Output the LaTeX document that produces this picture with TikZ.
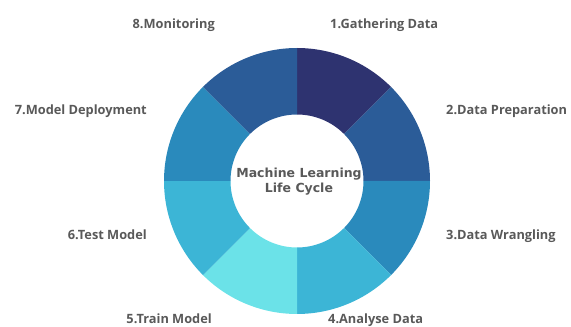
\documentclass[tikz,border=0pt]{standalone}
\usepackage{fontspec}
\setmainfont{Open Sans}
\newfontfamily\titlefont{DejaVu Sans}
\usepackage{xcolor}
\definecolor{cSegA}{HTML}{2E3370}
\definecolor{cSegB}{HTML}{2B5C98}
\definecolor{cSegC}{HTML}{2A8ABC}
\definecolor{cSegD}{HTML}{3CB5D6}
\definecolor{cSegE}{HTML}{6BE2E8}
\definecolor{cText}{HTML}{595959}
\usetikzlibrary{positioning}
\tikzset{
  lbl/.style={font=\bfseries\fontsize{12.8}{15}\selectfont,text=cText,inner sep=0pt},
  lbl-left/.style={lbl,anchor=base east},
  lbl-right/.style={lbl,anchor=base west},
  lbl-center/.style={lbl,align=center,font=\titlefont\bfseries\fontsize{12.5}{15}\selectfont},
}
\begin{document}
\begin{tikzpicture}[x=1pt,y=1pt]
  \useasboundingbox (0,0) rectangle (571,327);
  \coordinate (c) at (297,146);
  % ring segments, clockwise from the top
  \begin{scope}[shift={(c)}]
    \foreach \i/\col in {1/cSegA,2/cSegB,3/cSegC,4/cSegD,5/cSegE,6/cSegD,7/cSegC,8/cSegB} {
      \pgfmathsetmacro{\sa}{90-45*(\i-1)}
      \pgfmathsetmacro{\ea}{90-45*\i}
      \fill[\col] (\sa:133) arc[start angle=\sa,end angle=\ea,radius=133]
        -- (\ea:66.5) arc[start angle=\ea,end angle=\sa,radius=66.5] -- cycle;
    }
  \end{scope}
  \node[lbl-center] (title) at (299,145) {Machine Learning\\Life Cycle};
  % step labels
  \node[lbl-right] (gather) at (330,298) {1.Gathering Data};
  \node[lbl-right] (prep) at (446,212) {2.Data Preparation};
  \node[lbl-right] (wrangle) at (446,87) {3.Data Wrangling};
  \node[lbl-right] (analyse) at (328,3.5) {4.Analyse Data};
  \node[lbl-left] (train) at (212,3.5) {5.Train Model};
  \node[lbl-left] (test) at (147,87) {6.Test Model};
  \node[lbl-left] (deploy) at (147,212) {7.Model Deployment};
  \node[lbl-left] (monitor) at (215,298) {8.Monitoring};
\end{tikzpicture}
\end{document}
